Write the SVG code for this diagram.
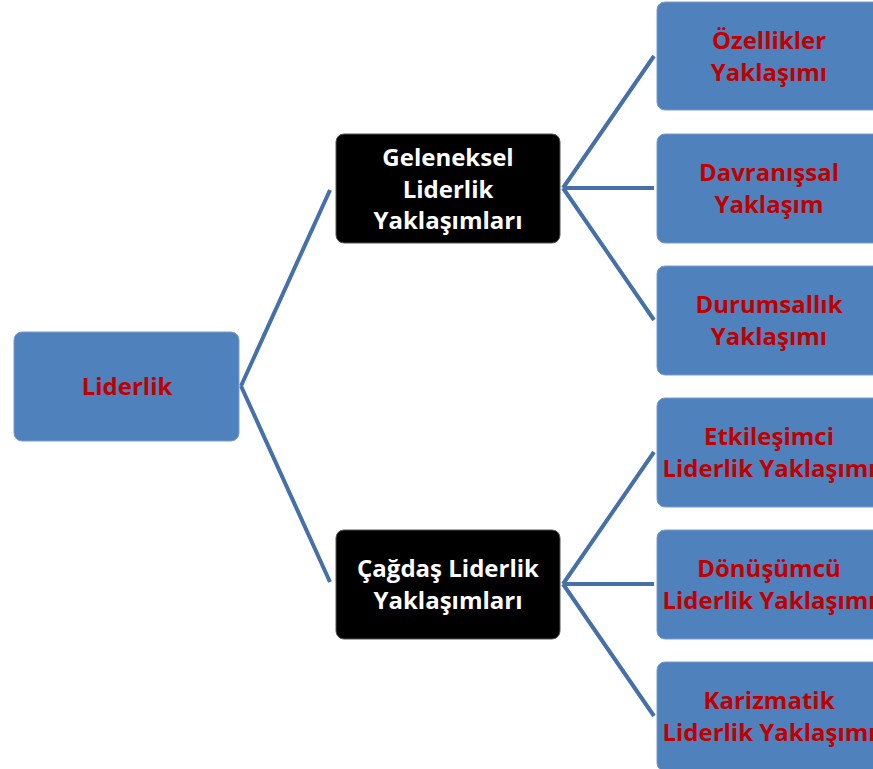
<svg xmlns="http://www.w3.org/2000/svg" width="873" height="769" viewBox="0 0 873 769">
<style>
.blue{fill:#4F81BD;stroke:#7a9dcb;stroke-width:1}
.dark{fill:#000;stroke:#555;stroke-width:1}
.t{font-family:"Open Sans","Liberation Sans",sans-serif;font-weight:bold;font-size:24px;text-anchor:middle;dominant-baseline:central}
.r{fill:#C00000}
.w{fill:#fff}
.c{fill:none;stroke:#4570A8;stroke-width:4;stroke-linecap:butt}
</style>
<rect width="873" height="769" fill="#fff"/>
<g id="connectors">
<path class="c" d="M241,386 L330,190 M241,386 L330,582"/>
<path class="c" d="M563,188 L654,56 M563,188 L654,188 M563,188 L654,320"/>
<path class="c" d="M563,584 L654,452 M563,584 L654,584 M563,584 L654,716"/>
</g>
<g id="liderlik">
<rect class="blue" x="14" y="332" width="225" height="109" rx="8"/>
<text class="t r" x="127" y="385">Liderlik</text>
</g>
<g id="geleneksel">
<rect class="dark" x="336" y="134" width="224" height="109" rx="8"/>
<text class="t w" x="448" y="156">Geleneksel</text>
<text class="t w" x="448" y="188">Liderlik</text>
<text class="t w" x="448" y="219">Yaklaşımları</text>
</g>
<g id="cagdas">
<rect class="dark" x="336" y="530" width="224" height="109" rx="8"/>
<text class="t w" x="448" y="567">Çağdaş Liderlik</text>
<text class="t w" x="448" y="599">Yaklaşımları</text>
</g>
<g id="ozellikler">
<rect class="blue" x="657" y="2" width="225" height="108" rx="8"/>
<text class="t r" x="769" y="39">Özellikler</text>
<text class="t r" x="769" y="71">Yaklaşımı</text>
</g>
<g id="davranissal">
<rect class="blue" x="657" y="134" width="225" height="109" rx="8"/>
<text class="t r" x="769" y="171">Davranışsal</text>
<text class="t r" x="769" y="203">Yaklaşım</text>
</g>
<g id="durumsallik">
<rect class="blue" x="657" y="266" width="225" height="109" rx="8"/>
<text class="t r" x="769" y="303">Durumsallık</text>
<text class="t r" x="769" y="335">Yaklaşımı</text>
</g>
<g id="etkilesimci">
<rect class="blue" x="657" y="398" width="225" height="109" rx="8"/>
<text class="t r" x="769" y="435">Etkileşimci</text>
<text class="t r" x="769" y="467">Liderlik Yaklaşımı</text>
</g>
<g id="donusumcu">
<rect class="blue" x="657" y="530" width="225" height="109" rx="8"/>
<text class="t r" x="769" y="567">Dönüşümcü</text>
<text class="t r" x="769" y="599">Liderlik Yaklaşımı</text>
</g>
<g id="karizmatik">
<rect class="blue" x="657" y="662" width="225" height="109" rx="8"/>
<text class="t r" x="769" y="699">Karizmatik</text>
<text class="t r" x="769" y="731">Liderlik Yaklaşımı</text>
</g>
</svg>
